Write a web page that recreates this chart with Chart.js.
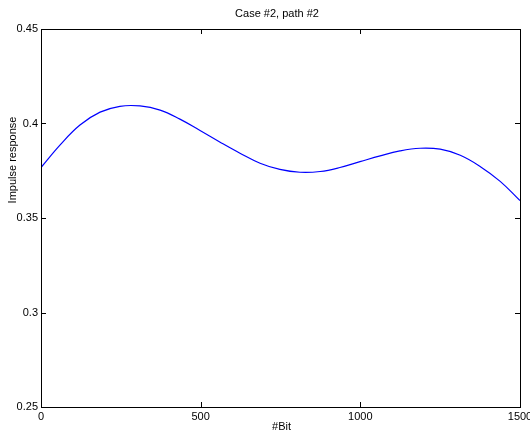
<!DOCTYPE html>
<html>
<head>
<meta charset="utf-8">
<script src="https://cdn.jsdelivr.net/npm/chart.js@4/dist/chart.umd.min.js"></script>
<style>
  html, body { margin: 0; padding: 0; background: #ffffff; }
  #wrap { width: 530px; height: 434px; position: relative; }
</style>
</head>
<body>
<div id="wrap"><canvas id="c" width="530" height="434"></canvas></div>
<script>
// Impulse response along the bit index
const bitIndex = [0, 60, 122, 185, 247, 310, 373, 435, 498, 561, 623, 686, 748, 811, 874, 936, 999, 1062, 1124, 1187, 1250, 1313, 1375, 1438, 1500];
const impulseResponse = [0.3767, 0.3887, 0.3992, 0.4060, 0.4091, 0.4093, 0.4071, 0.4023, 0.3963, 0.3901, 0.3843, 0.3790, 0.3757, 0.3742, 0.3746, 0.3767, 0.3798, 0.3829, 0.3855, 0.3869, 0.3864, 0.3832, 0.3773, 0.3694, 0.3592];

const xTickValues = [0, 500, 1000, 1500];
const yTickValues = [0.25, 0.3, 0.35, 0.4, 0.45];
const yTickLabels = ['0.25', '0.3', '0.35', '0.4', '0.45'];

const chartTitle = 'Case #2, path #2';
const xTitle = '#Bit';
const yTitle = 'Impulse response';

const FONT = '"Liberation Sans", Arial, Helvetica, sans-serif';

// Axes box, inward tick marks and the text labels
const boxAndLabels = {
  id: 'boxAndLabels',
  afterDatasetsDraw(chart) {
    const { ctx, chartArea: a, scales } = chart;
    ctx.save();
    ctx.strokeStyle = '#000000';
    ctx.lineWidth = 1;
    ctx.strokeRect(Math.round(a.left) + 0.5, Math.round(a.top) + 0.5,
                   Math.round(a.right - a.left), Math.round(a.bottom - a.top));
    const len = 5;
    ctx.beginPath();
    scales.x.ticks.forEach(t => {
      const px = Math.round(scales.x.getPixelForValue(t.value)) + 0.5;
      ctx.moveTo(px, a.bottom); ctx.lineTo(px, a.bottom - len);
      ctx.moveTo(px, a.top); ctx.lineTo(px, a.top + len);
    });
    scales.y.ticks.forEach(t => {
      const py = Math.round(scales.y.getPixelForValue(t.value)) + 0.5;
      ctx.moveTo(a.left, py); ctx.lineTo(a.left + len, py);
      ctx.moveTo(a.right, py); ctx.lineTo(a.right - len, py);
    });
    ctx.stroke();

    ctx.fillStyle = '#000000';
    ctx.font = '11px ' + FONT;
    ctx.textAlign = 'center';
    ctx.textBaseline = 'middle';
    ctx.fillText(chartTitle, 277, 14);
    ctx.fillText(xTitle, (a.left + a.right) / 2 + 1, 427);
    ctx.translate(13, 160);
    ctx.rotate(-Math.PI / 2);
    ctx.fillText(yTitle, 0, 0);
    ctx.restore();
  }
};

new Chart(document.getElementById('c'), {
  type: 'line',
  data: {
    datasets: [{
      data: bitIndex.map((b, i) => ({ x: b, y: impulseResponse[i] })),
      borderColor: '#0000ff',
      borderWidth: 1.2,
      pointRadius: 0,
      fill: false,
      tension: 0.4
    }]
  },
  options: {
    responsive: false,
    animation: false,
    devicePixelRatio: 1,
    layout: { padding: { top: 29, right: 10, left: 0, bottom: 0 } },
    plugins: { legend: { display: false }, title: { display: false }, tooltip: { enabled: false } },
    scales: {
      x: {
        type: 'linear',
        min: 0, max: 1500,
        afterBuildTicks(scale) { scale.ticks = xTickValues.map(v => ({ value: v })); },
        afterFit(scale) { scale.height = 27; scale.paddingLeft = 0; scale.paddingRight = 0; },
        grid: { display: false, drawTicks: false },
        border: { display: false },
        ticks: {
          padding: 3,
          color: '#000000',
          font: { family: FONT, size: 11 },
          maxRotation: 0,
          autoSkip: false,
          callback: v => String(v)
        }
      },
      y: {
        type: 'linear',
        min: 0.25, max: 0.45,
        afterBuildTicks(scale) { scale.ticks = yTickValues.map(v => ({ value: v })); },
        afterFit(scale) { scale.width = 41; scale.paddingTop = 0; scale.paddingBottom = 0; },
        grid: { display: false, drawTicks: false },
        border: { display: false },
        ticks: {
          padding: 3,
          color: '#000000',
          font: { family: FONT, size: 11 },
          autoSkip: false,
          callback: v => yTickLabels[yTickValues.findIndex(t => Math.abs(t - v) < 1e-9)]
        }
      }
    }
  },
  plugins: [boxAndLabels]
});
</script>
</body>
</html>
